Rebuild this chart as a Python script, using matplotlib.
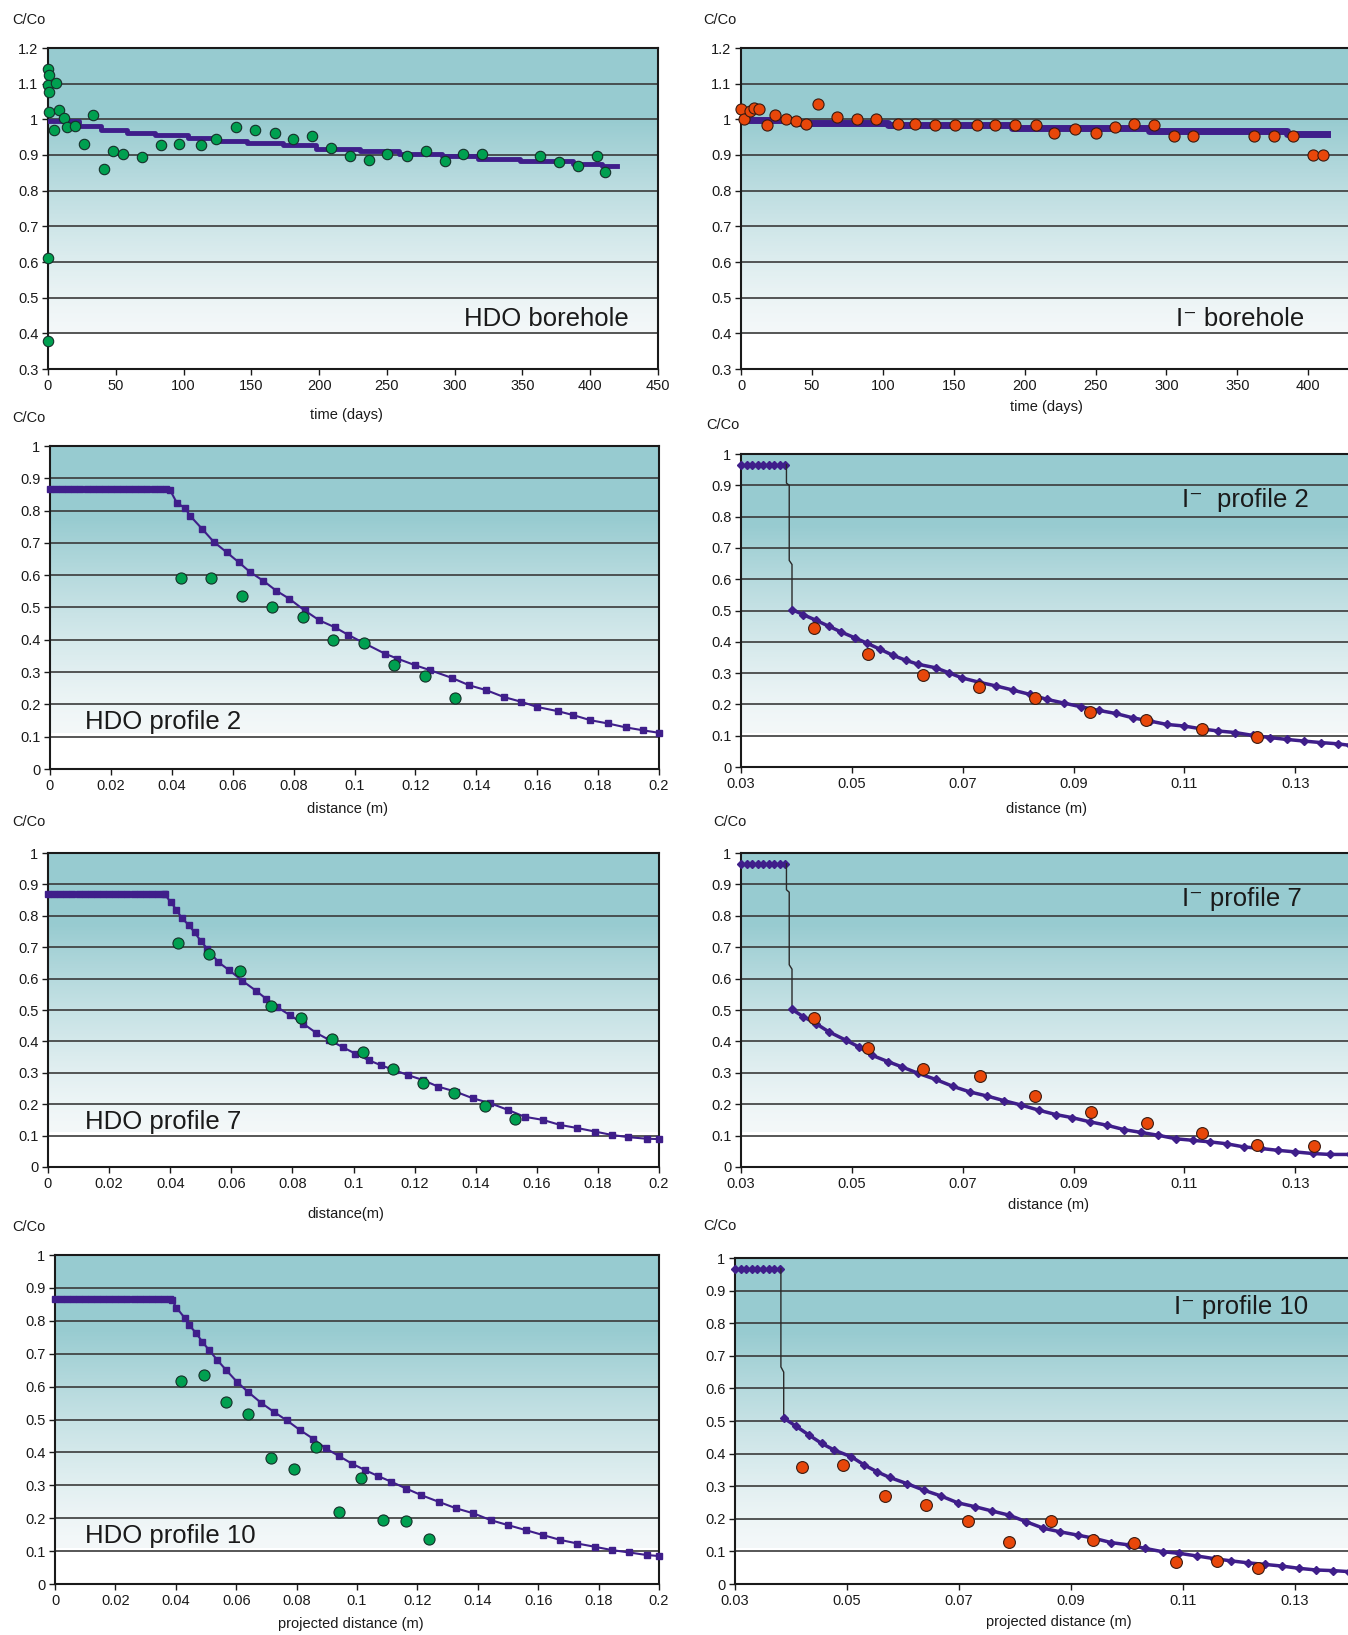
import matplotlib
matplotlib.use("Agg")
import numpy as np
from matplotlib import pyplot as plt

plt.rcParams['font.family'] = ['Liberation Sans', 'DejaVu Sans']

# ---- colores
TEAL = (151/255, 203/255, 208/255)
LIGHT = (244/255, 248/255, 249/255)
PURPLE = '#3f1e8a'
GREEN = '#00a050'
ORANGE = '#e8470a'

# ---- HDO borehole
hdo_bh_dias = [0, 0.6, 0, 6, 1, 1, 8, 11.5, 4.5, 14, 20, 33, 26.5, 41, 48, 55, 69, 83, 97, 113,
               124, 139, 153, 167.5, 181, 195, 209, 223, 237, 250, 265, 279, 293, 306, 320,
               363, 377, 391, 405, 411, 0, 0]
hdo_bh_c = [1.141, 1.125, 1.096, 1.101, 1.076, 1.021, 1.027, 1.004, 0.969, 0.978, 0.982, 1.011,
            0.932, 0.861, 0.912, 0.904, 0.893, 0.927, 0.932, 0.927, 0.944, 0.978, 0.969, 0.962,
            0.944, 0.952, 0.919, 0.897, 0.885, 0.904, 0.896, 0.912, 0.884, 0.904, 0.903,
            0.897, 0.879, 0.868, 0.897, 0.852, 0.610, 0.378]
hdo_bh_mod_dias = [0, 23, 39, 58, 79, 103, 125, 147, 173, 198, 230, 259, 291, 317, 348, 387, 409, 420]
hdo_bh_mod_c = [0.995, 0.980, 0.969, 0.962, 0.956, 0.947, 0.940, 0.933, 0.927, 0.917, 0.910,
                0.904, 0.897, 0.890, 0.883, 0.875, 0.870, 0.870]

# ---- I- borehole
i_bh_dias = [0, 2, 6, 9.3, 13, 18, 24, 32, 39, 46, 54, 67.5, 82, 95, 111, 122.6, 137, 151, 166.5,
             179, 193, 208, 221, 235.5, 250, 263.5, 277, 291, 305, 319, 362, 375.6, 389, 403, 410.5]
i_bh_c = [1.028, 1.0, 1.023, 1.033, 1.028, 0.985, 1.011, 1.0, 0.994, 0.988, 1.042, 1.006, 1.0,
          1.0, 0.988, 0.988, 0.984, 0.984, 0.984, 0.984, 0.984, 0.984, 0.963, 0.972, 0.963,
          0.979, 0.988, 0.983, 0.953, 0.953, 0.953, 0.953, 0.953, 0.899, 0.899]
i_bh_mod_dias = [0, 38, 104, 191, 288, 385, 413]
i_bh_mod_c = [0.998, 0.990, 0.984, 0.975, 0.967, 0.960, 0.960]

# ---- perfiles HDO (distancia en m)
hdo_meseta_x = [0, 0.002, 0.004, 0.006, 0.008, 0.010, 0.012, 0.014, 0.016, 0.018, 0.020,
                0.022, 0.024, 0.026, 0.028, 0.030, 0.032, 0.034, 0.036, 0.038]

hdo_p2_x = [0.043, 0.053, 0.063, 0.073, 0.083, 0.093, 0.103, 0.113, 0.123, 0.133]
hdo_p2_c = [0.591, 0.591, 0.535, 0.503, 0.472, 0.400, 0.391, 0.323, 0.288, 0.219]
hdo_p2_meseta = 0.867
hdo_p2_mod_x = [0.0394, 0.0416, 0.0444, 0.046, 0.050, 0.0537, 0.058, 0.062, 0.0658, 0.070,
                0.0743, 0.0786, 0.0836, 0.0885, 0.0935, 0.0978, 0.1035, 0.110, 0.114, 0.120,
                0.1248, 0.132, 0.1377, 0.1433, 0.149, 0.1548, 0.160, 0.1668, 0.1718, 0.1775,
                0.1832, 0.189, 0.1946, 0.200]
hdo_p2_mod_c = [0.864, 0.825, 0.807, 0.784, 0.743, 0.704, 0.671, 0.640, 0.609, 0.583,
                0.552, 0.527, 0.491, 0.460, 0.439, 0.416, 0.388, 0.357, 0.342, 0.321,
                0.306, 0.282, 0.259, 0.244, 0.223, 0.208, 0.192, 0.179, 0.167, 0.151,
                0.141, 0.129, 0.120, 0.112]

hdo_p7_x = [0.0426, 0.0528, 0.063, 0.0729, 0.0827, 0.093, 0.103, 0.113, 0.1227, 0.1328, 0.143, 0.153]
hdo_p7_c = [0.714, 0.679, 0.624, 0.512, 0.474, 0.409, 0.367, 0.311, 0.268, 0.237, 0.195, 0.153]
hdo_p7_meseta = 0.868
hdo_p7_mod_x = [0.0383, 0.0401, 0.042, 0.0437, 0.0461, 0.048, 0.050, 0.0522, 0.0558, 0.0594,
                0.0636, 0.068, 0.0715, 0.075, 0.0793, 0.0836, 0.0878, 0.092, 0.0964, 0.1006,
                0.105, 0.109, 0.1135, 0.118, 0.1227, 0.1277, 0.1334, 0.139, 0.1448, 0.1505,
                0.156, 0.162, 0.1676, 0.1733, 0.179, 0.1846, 0.190, 0.196, 0.200]
hdo_p7_mod_c = [0.868, 0.844, 0.820, 0.794, 0.770, 0.747, 0.720, 0.694, 0.652, 0.626,
                0.593, 0.562, 0.535, 0.509, 0.483, 0.456, 0.427, 0.405, 0.382, 0.361,
                0.340, 0.324, 0.308, 0.292, 0.277, 0.256, 0.240, 0.219, 0.203, 0.182,
                0.160, 0.150, 0.134, 0.124, 0.113, 0.102, 0.095, 0.090, 0.089]

hdo_p10_x = [0.0418, 0.0494, 0.0566, 0.064, 0.0716, 0.0791, 0.0864, 0.0939, 0.1012, 0.1087, 0.1161, 0.1238]
hdo_p10_c = [0.616, 0.635, 0.554, 0.516, 0.384, 0.349, 0.417, 0.218, 0.321, 0.194, 0.192, 0.137]
hdo_p10_meseta = 0.866
hdo_p10_mod_x = [0.0388, 0.0402, 0.0431, 0.0445, 0.0467, 0.0488, 0.051, 0.0538, 0.0567, 0.0603,
                 0.0639, 0.0682, 0.0725, 0.0768, 0.0811, 0.0854, 0.0897, 0.094, 0.0983, 0.1027,
                 0.107, 0.1113, 0.1163, 0.1213, 0.127, 0.1328, 0.1385, 0.1443, 0.150, 0.1558,
                 0.1615, 0.1673, 0.173, 0.1788, 0.1845, 0.190, 0.196, 0.200]
hdo_p10_mod_c = [0.862, 0.840, 0.807, 0.786, 0.763, 0.736, 0.711, 0.680, 0.650, 0.614,
                 0.584, 0.551, 0.523, 0.497, 0.468, 0.442, 0.412, 0.389, 0.366, 0.346,
                 0.328, 0.311, 0.290, 0.270, 0.250, 0.230, 0.215, 0.194, 0.179, 0.164,
                 0.149, 0.134, 0.123, 0.113, 0.103, 0.096, 0.088, 0.085]

# ---- perfiles I-
i_meseta_x = [0.030, 0.031, 0.032, 0.033, 0.034, 0.035, 0.036, 0.037, 0.038]

i_p2_x = [0.0431, 0.053, 0.0628, 0.073, 0.083, 0.0929, 0.103, 0.1131, 0.123]
i_p2_c = [0.445, 0.362, 0.293, 0.255, 0.222, 0.177, 0.150, 0.123, 0.097]
i_p2_meseta = 0.966
i_p2_salto_x = [0.0382, 0.0382, 0.0387, 0.0387, 0.0392, 0.0392]
i_p2_salto_c = [0.966, 0.907, 0.900, 0.660, 0.647, 0.503]
i_p2_mod_x = [0.0392, 0.0412, 0.0435, 0.0458, 0.0481, 0.0505, 0.0528, 0.0551, 0.0574, 0.0597,
              0.062, 0.0651, 0.0675, 0.0698, 0.0729, 0.076, 0.079, 0.0821, 0.0852, 0.0883,
              0.0914, 0.0945, 0.0976, 0.1007, 0.1037, 0.1068, 0.1099, 0.113, 0.1161, 0.1192,
              0.1223, 0.1254, 0.1285, 0.1315, 0.1346, 0.1377, 0.1399]
i_p2_mod_c = [0.503, 0.487, 0.469, 0.450, 0.431, 0.413, 0.395, 0.376, 0.357, 0.341,
              0.328, 0.317, 0.301, 0.285, 0.271, 0.259, 0.246, 0.232, 0.216, 0.204,
              0.192, 0.181, 0.171, 0.157, 0.147, 0.136, 0.131, 0.122, 0.115, 0.110,
              0.101, 0.094, 0.088, 0.083, 0.078, 0.074, 0.069]

i_p7_x = [0.0431, 0.053, 0.0629, 0.0732, 0.0831, 0.0931, 0.1032, 0.1131, 0.1231, 0.1333]
i_p7_c = [0.476, 0.380, 0.313, 0.289, 0.226, 0.176, 0.140, 0.109, 0.069, 0.066]
i_p7_meseta = 0.966
i_p7_salto_x = [0.0382, 0.0382, 0.0387, 0.0387, 0.0392, 0.0392]
i_p7_salto_c = [0.966, 0.883, 0.875, 0.644, 0.630, 0.502]
i_p7_mod_x = [0.0392, 0.0412, 0.0435, 0.0458, 0.0489, 0.0512, 0.0536, 0.0566, 0.059, 0.062,
              0.0651, 0.0682, 0.0713, 0.0744, 0.0775, 0.0806, 0.0837, 0.0868, 0.0898, 0.0929,
              0.096, 0.0991, 0.1022, 0.1053, 0.1084, 0.1115, 0.1146, 0.1176, 0.1207, 0.1238,
              0.1269, 0.130, 0.1331, 0.1362, 0.1399]
i_p7_mod_c = [0.502, 0.479, 0.457, 0.431, 0.404, 0.383, 0.356, 0.335, 0.319, 0.298,
              0.279, 0.257, 0.239, 0.226, 0.211, 0.197, 0.181, 0.167, 0.157, 0.144,
              0.133, 0.119, 0.110, 0.101, 0.090, 0.085, 0.080, 0.074, 0.064, 0.059,
              0.053, 0.048, 0.043, 0.040, 0.040]

i_p10_x = [0.042, 0.0493, 0.0568, 0.0642, 0.0717, 0.079, 0.0864, 0.0939, 0.1013, 0.1087, 0.1161, 0.1235]
i_p10_c = [0.358, 0.365, 0.270, 0.241, 0.193, 0.129, 0.193, 0.135, 0.127, 0.068, 0.071, 0.048]
i_p10_meseta = 0.967
i_p10_salto_x = [0.0382, 0.0382, 0.0387, 0.0387]
i_p10_salto_c = [0.967, 0.666, 0.650, 0.508]
i_p10_mod_x = [0.0388, 0.0409, 0.0432, 0.0455, 0.0477, 0.0508, 0.0531, 0.0554, 0.0576, 0.0607,
               0.0637, 0.0668, 0.0698, 0.0729, 0.0759, 0.079, 0.082, 0.0851, 0.0881, 0.0912,
               0.0942, 0.0972, 0.1003, 0.1033, 0.1064, 0.1094, 0.1125, 0.1155, 0.1186, 0.1216,
               0.1247, 0.1277, 0.1308, 0.1338, 0.1369, 0.1397]
i_p10_mod_c = [0.508, 0.484, 0.457, 0.431, 0.411, 0.390, 0.365, 0.344, 0.327, 0.308,
               0.288, 0.270, 0.249, 0.237, 0.224, 0.211, 0.191, 0.171, 0.160, 0.150,
               0.140, 0.127, 0.120, 0.109, 0.099, 0.094, 0.086, 0.078, 0.071, 0.065,
               0.060, 0.055, 0.048, 0.043, 0.041, 0.038]

W, H = 1348, 1635
fig = plt.figure(figsize=(W / 100, H / 100), dpi=100)


def rect(l, t, r, b):
    return [l / W, 1 - b / H, (r - l) / W, (b - t) / H]


def fondo(ax):
    f = np.linspace(0, 1, 400)
    t = np.clip((f - 0.11) / 0.89, 0, 1)
    g = np.minimum(1, t / 0.75) ** 1.3
    img = np.zeros((400, 1, 3))
    for k in range(3):
        img[:, 0, k] = LIGHT[k] + (TEAL[k] - LIGHT[k]) * g
    img[f < 0.11] = 1.0
    ax.imshow(img[::-1], extent=[0, 1, 0, 1], transform=ax.transAxes,
              aspect='auto', zorder=0, interpolation='nearest')


def preparar(ax, xlim, xticks, ylim, yticks, derecha=True):
    fondo(ax)
    ax.set_xlim(*xlim)
    ax.set_ylim(*ylim)
    ax.set_xticks(xticks)
    ax.set_xticklabels([f'{v:g}' for v in xticks])
    ax.set_yticks(yticks)
    ax.set_yticklabels([f'{v:g}' for v in yticks])
    for v in yticks[1:-1]:
        ax.axhline(v, color='#3a3a3a', lw=1.2, zorder=1)
    for s in ax.spines.values():
        s.set_linewidth(1.5)
        s.set_color('#1a1a1a')
    ax.spines['right'].set_visible(derecha)
    ax.tick_params(direction='out', length=4, width=1, labelsize=10.5,
                   colors='#1a1a1a', pad=3)


def txt(x, y, s, **kw):
    fig.text(x / W, 1 - y / H, s, **kw)


yt1 = [0.3, 0.4, 0.5, 0.6, 0.7, 0.8, 0.9, 1.0, 1.1, 1.2]
yt2 = [0, 0.1, 0.2, 0.3, 0.4, 0.5, 0.6, 0.7, 0.8, 0.9, 1.0]
xt_hdo = [0, 0.02, 0.04, 0.06, 0.08, 0.1, 0.12, 0.14, 0.16, 0.18, 0.2]
xt_i = [0.03, 0.05, 0.07, 0.09, 0.11, 0.13]

# ---- fila 1
ax1 = fig.add_axes(rect(48, 48, 658, 369))
preparar(ax1, (0, 450), list(range(0, 451, 50)), (0.3, 1.2), yt1)
ax1.step(hdo_bh_mod_dias, hdo_bh_mod_c, where='post', color=PURPLE, lw=3.5, zorder=3)
ax1.plot(hdo_bh_dias, hdo_bh_c, 'o', ms=7.5, color=GREEN, mec='#15302a', mew=0.8, zorder=4,
         clip_on=False)

ax2 = fig.add_axes(rect(741, 48, 1348, 369))
preparar(ax2, (0, 428), list(range(0, 401, 50)), (0.3, 1.2), yt1, derecha=False)
ax2.step(i_bh_mod_dias, i_bh_mod_c, where='post', color=PURPLE, lw=5, zorder=3)
ax2.plot(i_bh_dias, i_bh_c, 'o', ms=8, color=ORANGE, mec='#3a1a10', mew=0.8, zorder=4,
         clip_on=False)

# ---- filas de perfiles
paneles = [
    (rect(50, 446, 659, 769), hdo_p2_meseta, hdo_p2_mod_x, hdo_p2_mod_c, hdo_p2_x, hdo_p2_c),
    (rect(48, 853, 659, 1167), hdo_p7_meseta, hdo_p7_mod_x, hdo_p7_mod_c, hdo_p7_x, hdo_p7_c),
    (rect(55, 1255, 659, 1584), hdo_p10_meseta, hdo_p10_mod_x, hdo_p10_mod_c, hdo_p10_x, hdo_p10_c),
]
for r, mes, mx, mc, px, pc in paneles:
    ax = fig.add_axes(r)
    preparar(ax, (0, 0.2), xt_hdo, (0, 1), yt2)
    xs = hdo_meseta_x + mx
    ys = [mes] * len(hdo_meseta_x) + mc
    ax.plot(xs, ys, '-s', color=PURPLE, lw=1.5, ms=5, zorder=3, clip_on=False)
    ax.plot(px, pc, 'o', ms=8, color=GREEN, mec='#15302a', mew=0.8, zorder=4)

paneles_i = [
    (rect(741, 454, 1348, 767), i_p2_meseta, i_p2_salto_x, i_p2_salto_c, i_p2_mod_x, i_p2_mod_c, i_p2_x, i_p2_c),
    (rect(741, 853, 1348, 1167), i_p7_meseta, i_p7_salto_x, i_p7_salto_c, i_p7_mod_x, i_p7_mod_c, i_p7_x, i_p7_c),
    (rect(735, 1258, 1348, 1584), i_p10_meseta, i_p10_salto_x, i_p10_salto_c, i_p10_mod_x, i_p10_mod_c, i_p10_x, i_p10_c),
]
for r, mes, sx, sc, mx, mc, px, pc in paneles_i:
    ax = fig.add_axes(r)
    preparar(ax, (0.03, 0.1395), xt_i, (0, 1), yt2, derecha=False)
    ax.plot(i_meseta_x, [mes] * len(i_meseta_x), '-D', color=PURPLE, lw=2, ms=4, zorder=3,
            clip_on=False)
    ax.plot(sx, sc, '-', color='#2a2a2a', lw=1, zorder=3)
    ax.plot(mx, mc, '-D', color=PURPLE, lw=2.5, ms=4, zorder=3)
    ax.plot(px, pc, 'o', ms=8.5, color=ORANGE, mec='#3a1a10', mew=0.8, zorder=4)

# ---- textos
fs = 10.5
for x, y in [(12, 20), (703, 20), (12, 418), (706, 425), (12, 822), (713, 822), (12, 1227), (703, 1226)]:
    txt(x, y, 'C/Co', fontsize=fs, ha='left', va='center', color='#1a1a1a')

for x, y, s in [(346, 415, 'time (days)'), (1046, 407, 'time (days)'),
                (348, 809, 'distance (m)'), (1046, 809, 'distance (m)'),
                (346, 1214, 'distance(m)'), (1048, 1205, 'distance (m)'),
                (351, 1624, 'projected distance (m)'), (1059, 1622, 'projected distance (m)')]:
    txt(x, y, s, fontsize=fs, ha='center', va='center', color='#1a1a1a')

fl = 18.5
txt(629, 319, 'HDO borehole', fontsize=fl, ha='right', va='center', color='#1a1a1a')
txt(1304, 319, 'I\u207b borehole', fontsize=fl, ha='right', va='center', color='#1a1a1a')
txt(85, 722, 'HDO profile 2', fontsize=fl, ha='left', va='center', color='#1a1a1a')
txt(1309, 500, 'I\u207b  profile 2', fontsize=fl, ha='right', va='center', color='#1a1a1a')
txt(85, 1122, 'HDO profile 7', fontsize=fl, ha='left', va='center', color='#1a1a1a')
txt(1302, 899, 'I\u207b profile 7', fontsize=fl, ha='right', va='center', color='#1a1a1a')
txt(85, 1536, 'HDO profile 10', fontsize=fl, ha='left', va='center', color='#1a1a1a')
txt(1308, 1307, 'I\u207b profile 10', fontsize=fl, ha='right', va='center', color='#1a1a1a')

fig.savefig('out.png', dpi=100)
